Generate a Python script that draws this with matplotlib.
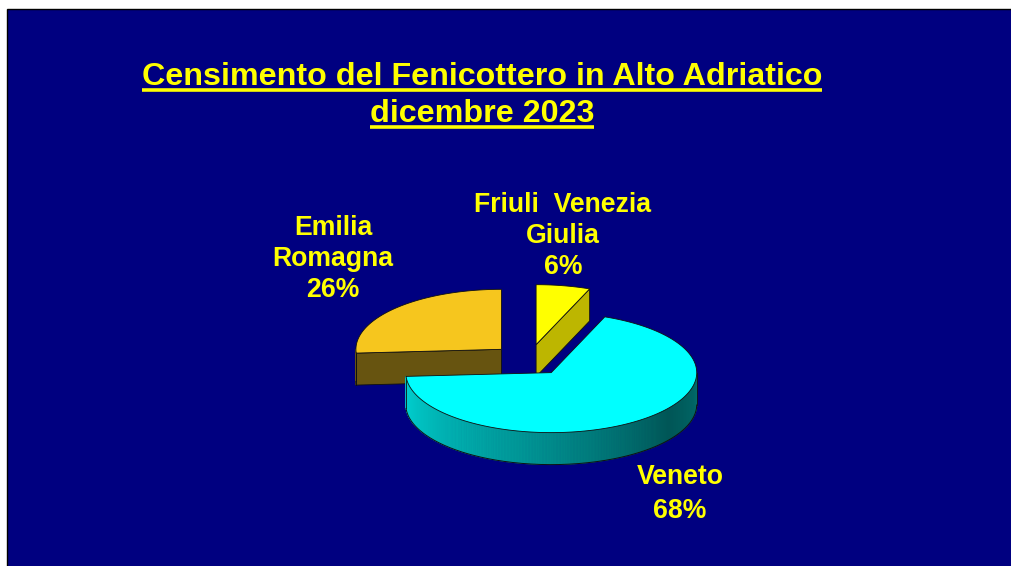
import numpy as np
import matplotlib
matplotlib.use("Agg")
import matplotlib.pyplot as plt
from matplotlib.patches import Polygon, Rectangle
from matplotlib.lines import Line2D
from matplotlib.colors import to_rgb

# ---------------- data ----------------
categories = ["Friuli Venezia Giulia", "Veneto", "Emilia Romagna"]
label_names = ["Friuli  Venezia\nGiulia", "Veneto", "Emilia\nRomagna"]
values = [6, 68, 26]
title_lines = ["Censimento del Fenicottero in Alto Adriatico", "dicembre 2023"]

# ---------------- style ----------------
top_colors = ["#FFFF00", "#00FFFF", "#F6C61E"]
side_colors = ["#BDB600", "#008C8C", "#675410"]
NAVY = "#000080"
YELLOW = "#FFFF00"
FONT = ["Liberation Sans", "DejaVu Sans"]

W, H = 1011, 566
fig = plt.figure(figsize=(W / 100, H / 100), dpi=100)
fig.patch.set_facecolor("white")
ax = fig.add_axes([0, 0, 1, 1])
ax.set_xlim(0, W)
ax.set_ylim(H, 0)
ax.axis("off")

ax.add_patch(Rectangle((7, 9), W + 20, H + 20, facecolor=NAVY, edgecolor="black", lw=1.0, zorder=0,
                       clip_on=True))

# pie geometry (pixels)
CX, CY = 529, 360
RX, RY = 145.5, 60
DEPTH = 32
EXPLODE = 0.26
EDGE = "#101010"

def pt(cx, cy, th, dz=0.0):
    r = np.deg2rad(th)
    return cx + RX * np.cos(r), cy - RY * np.sin(r) + dz

def shade_side(th):
    t = ((th % 360) - 180) / 180.0
    t = np.clip(t, 0, 1)
    return float(np.interp(t, [0, 0.45, 0.8, 1.0], [0.84, 0.58, 0.34, 0.42]))

total = sum(values)
angles = []
a = 90.0
for v in values:
    span = 360.0 * v / total
    angles.append((a - span, a))
    a -= span

order = sorted(range(len(values)), key=lambda i: -np.sin(np.deg2rad(sum(angles[i]) / 2)))

z = 1
for i in order:
    t1, t2 = angles[i]
    mid = np.deg2rad((t1 + t2) / 2)
    cx = CX + EXPLODE * RX * np.cos(mid)
    cy = CY - EXPLODE * RY * np.sin(mid)
    top_rgb = np.array(to_rgb(top_colors[i]))

    # radial faces
    for th, normal in ((t1, t1 - 90), (t2, t2 + 90)):
        if np.sin(np.deg2rad(normal)) < -1e-6:
            p1 = (cx, cy)
            p2 = pt(cx, cy, th)
            p3 = pt(cx, cy, th, DEPTH)
            p4 = (cx, cy + DEPTH)
            ax.add_patch(Polygon([p1, p2, p3, p4], closed=True, facecolor=side_colors[i],
                                 edgecolor=EDGE, lw=0.6, zorder=z))
    # outer curved side (front half only)
    ths = np.linspace(t1, t2, 400)
    front = np.sin(np.deg2rad(ths)) < 0
    if front.any():
        idx = np.where(front)[0]
        segs = np.split(idx, np.where(np.diff(idx) != 1)[0] + 1)
        for seg in segs:
            th_seg = ths[seg]
            for k in range(len(th_seg) - 1):
                a0, a1 = th_seg[k], th_seg[k + 1]
                if i == 1:
                    col = np.clip(top_rgb * shade_side((a0 + a1) / 2), 0, 1)
                else:
                    col = np.array(to_rgb(side_colors[i]))
                quad = [pt(cx, cy, a0), pt(cx, cy, a1), pt(cx, cy, a1, DEPTH), pt(cx, cy, a0, DEPTH)]
                ax.add_patch(Polygon(quad, closed=True, facecolor=col, edgecolor=col, lw=0.6, zorder=z))
            bx = [pt(cx, cy, t, DEPTH)[0] for t in th_seg]
            by = [pt(cx, cy, t, DEPTH)[1] for t in th_seg]
            ax.add_line(Line2D(bx, by, color=EDGE, lw=0.7, zorder=z + 0.5))
            for tend in (th_seg[0], th_seg[-1]):
                x0, y0 = pt(cx, cy, tend)
                ax.add_line(Line2D([x0, x0], [y0, y0 + DEPTH], color=EDGE, lw=0.6, zorder=z + 0.5))
    # top face
    tt = np.linspace(t1, t2, 200)
    poly = [(cx, cy)] + [pt(cx, cy, t) for t in tt]
    ax.add_patch(Polygon(poly, closed=True, facecolor=top_colors[i], edgecolor=EDGE, lw=0.6, zorder=z + 1))
    z += 2

# ---------------- labels ----------------
label_pos = [(563, 212), (680, 484), (333, 235)]  # first baseline
label_pitch = [31, 34, 31]
for i in range(len(values)):
    pct = f"{round(100 * values[i] / total)}%"
    lines = label_names[i].split("\n") + [pct]
    x, y = label_pos[i]
    for k, ln in enumerate(lines):
        ax.text(x, y + k * label_pitch[i], ln, ha="center", va="baseline", color=YELLOW,
                fontsize=19.2, fontweight="bold", family=FONT, zorder=20)

# ---------------- title ----------------
title_base = [85, 122]
fig.canvas.draw()
renderer = fig.canvas.get_renderer()
for k, ln in enumerate(title_lines):
    t = ax.text(482, title_base[k], ln, ha="center", va="baseline", color=YELLOW,
                fontsize=23.2, fontweight="bold", family=FONT, zorder=20)
    bb = t.get_window_extent(renderer=renderer)
    x0, x1 = bb.x0, bb.x1
    uy = title_base[k] + 5
    ax.add_line(Line2D([x0, x1], [uy, uy], color=YELLOW, lw=2.6, zorder=20, solid_capstyle="butt"))

fig.savefig("out.png", dpi=100, facecolor=fig.get_facecolor())
